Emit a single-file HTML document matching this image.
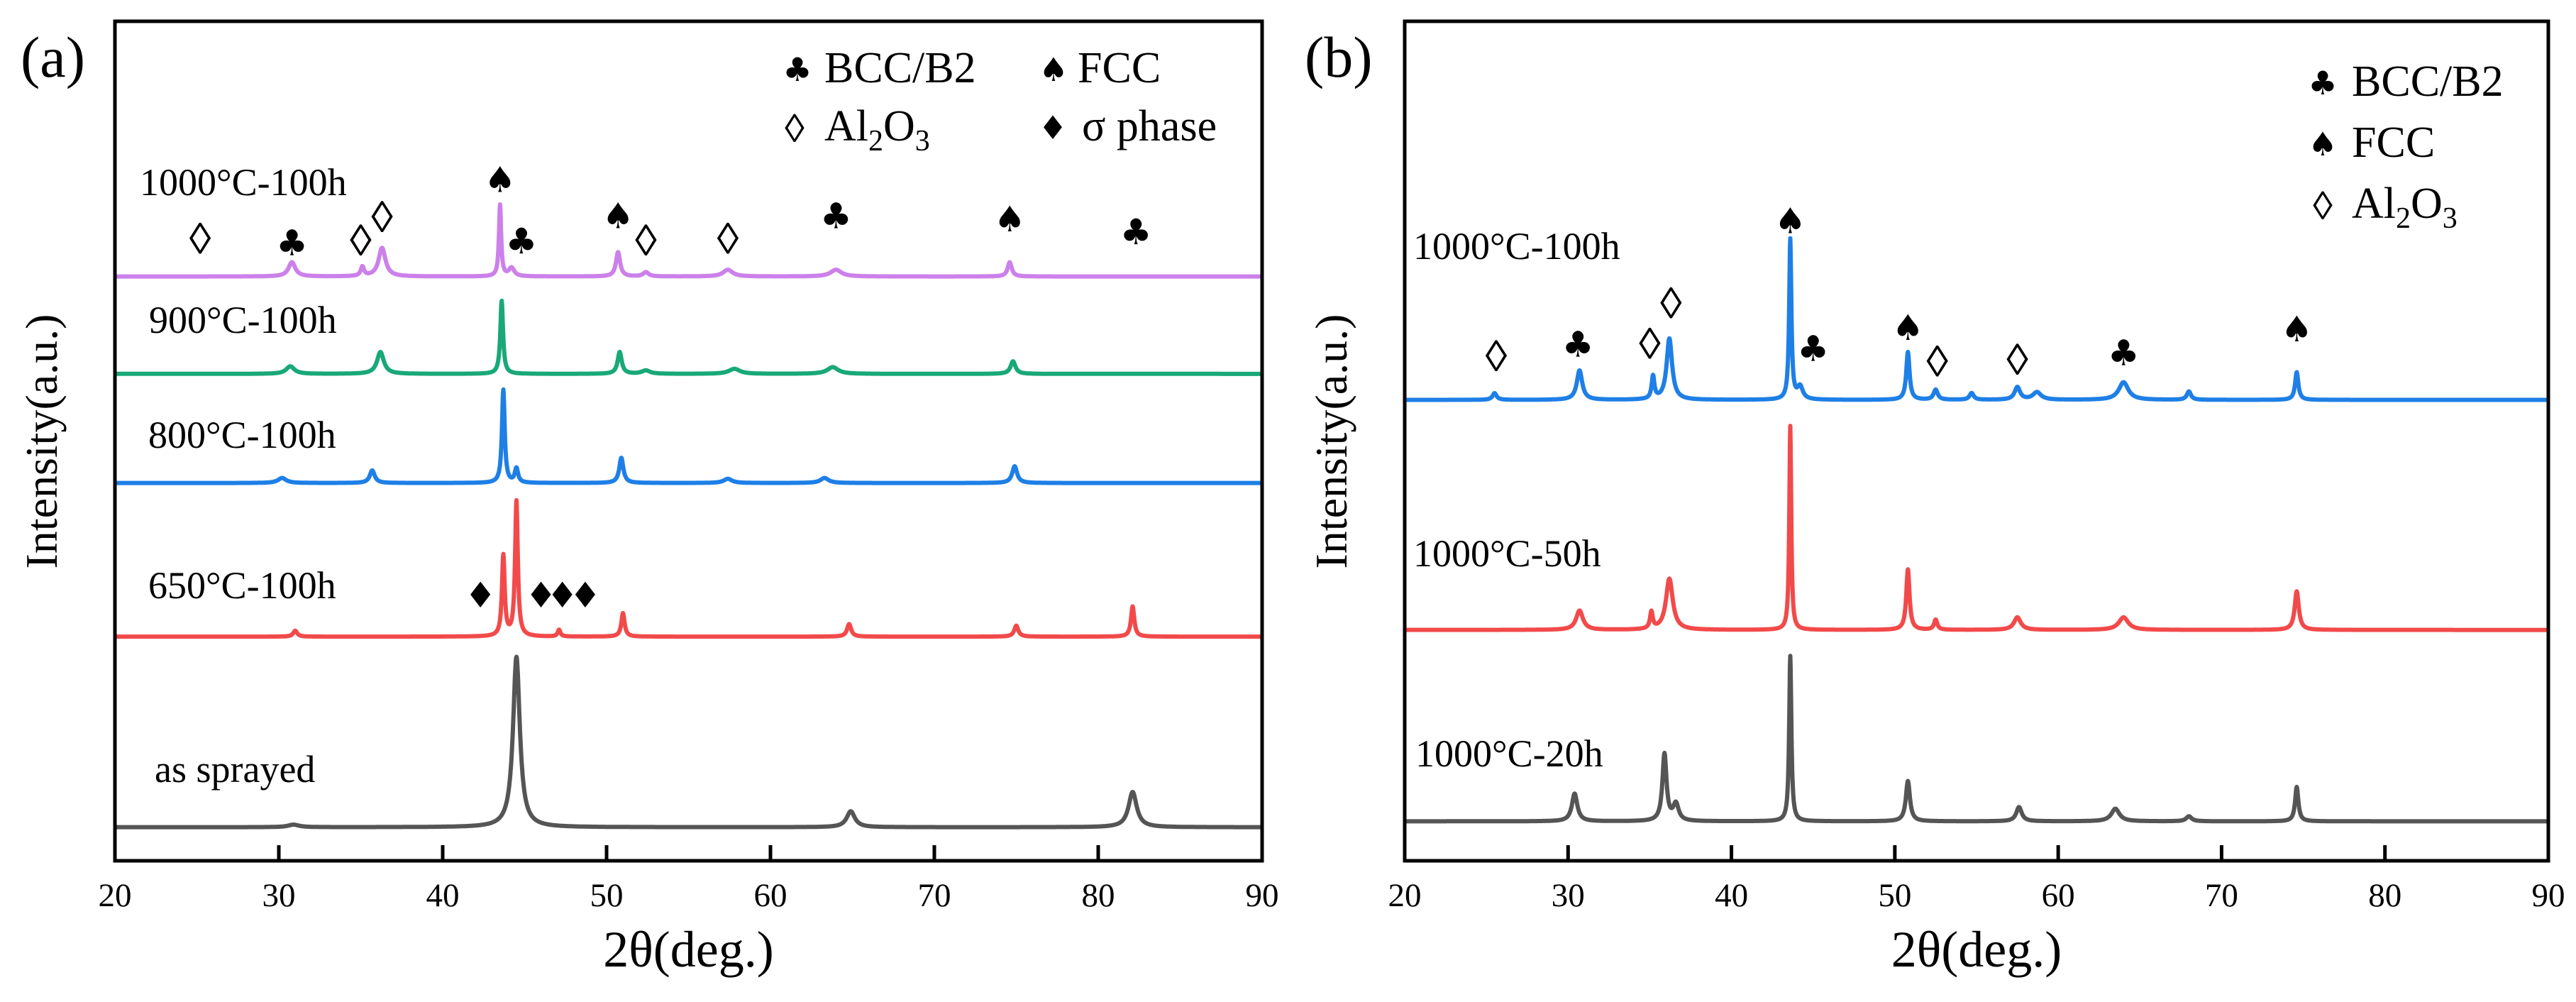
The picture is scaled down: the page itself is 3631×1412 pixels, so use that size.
<!DOCTYPE html>
<html><head><meta charset="utf-8"><style>
html,body{margin:0;padding:0;background:#fff;}
svg{display:block;font-family:"Liberation Serif","DejaVu Serif",serif;}
svg text{font-family:"Liberation Serif","DejaVu Serif",serif;}
svg text.sym{font-family:"DejaVu Sans",sans-serif;}
</style></head><body>
<svg id="fig" width="3631" height="1412" viewBox="0 0 3631 1412" xmlns="http://www.w3.org/2000/svg"></svg>
<script>
// ---- data: x grid / ticks
const xTicks = [20,30,40,50,60,70,80,90];
// Panel (a) series: offsets (a.u.), peak positions (deg), heights (a.u.), widths (deg)
const aNames = ["as sprayed","650°C-100h","800°C-100h","900°C-100h","1000°C-100h"];
const aColors = ["#555555","#f24a4a","#1e7fe6","#19a878","#cc80ea"];
const aOffsets = [4.0, 26.7, 45.0, 58.0, 69.6];
const aPeakPos = [
  [44.5, 64.9, 82.1, 30.9],
  [43.7, 44.5, 51.0, 64.8, 75.0, 82.1, 31.0, 47.1],
  [43.7, 44.5, 50.9, 35.7, 74.9, 30.2, 57.4, 63.3],
  [43.6, 36.2, 50.8, 30.7, 74.8, 57.8, 63.8, 52.4],
  [43.5, 36.3, 35.1, 30.8, 50.7, 74.6, 64.0, 57.4, 52.4, 44.2]
];
const aPeakH = [
  [20.3, 1.9, 4.2, 0.3],
  [9.6, 16.1, 2.8, 1.5, 1.3, 3.6, 0.7, 0.8],
  [11.1, 1.7, 3.0, 1.5, 2.0, 0.6, 0.5, 0.6],
  [8.7, 2.6, 2.6, 0.9, 1.5, 0.6, 0.8, 0.4],
  [8.5, 3.4, 1.1, 1.7, 2.9, 1.7, 0.8, 0.8, 0.5, 1.0]
];
const aPeakW = [
  [0.25, 0.3, 0.3, 0.4],
  [0.1, 0.1, 0.12, 0.15, 0.15, 0.12, 0.15, 0.1],
  [0.1, 0.12, 0.15, 0.18, 0.18, 0.3, 0.3, 0.3],
  [0.1, 0.25, 0.15, 0.3, 0.18, 0.4, 0.4, 0.3],
  [0.08, 0.25, 0.12, 0.25, 0.15, 0.15, 0.4, 0.35, 0.2, 0.2]
];
// Panel (b)
const bNames = ["1000°C-20h","1000°C-50h","1000°C-100h"];
const bColors = ["#555555","#f24a4a","#1e7fe6"];
const bOffsets = [4.7, 27.5, 54.9];
const bPeakPos = [
  [43.6, 35.9, 30.4, 50.8, 74.6, 57.6, 63.5, 36.6, 68.0],
  [43.6, 36.2, 50.8, 74.6, 30.7, 35.1, 57.5, 64.0, 52.5],
  [43.6, 36.2, 35.2, 30.7, 50.8, 74.6, 64.0, 57.5, 52.5, 25.5, 44.2, 54.7, 68.0, 58.7]
];
const bPeakH = [
  [19.7, 8.0, 3.3, 4.8, 4.1, 1.7, 1.5, 2.0, 0.6],
  [24.3, 6.1, 7.2, 4.6, 2.3, 2.0, 1.5, 1.5, 1.2],
  [19.1, 7.3, 2.7, 3.5, 5.7, 3.3, 2.1, 1.5, 1.2, 0.8, 1.5, 0.8, 1.0, 0.9]
];
const bPeakW = [
  [0.08, 0.15, 0.2, 0.15, 0.12, 0.2, 0.3, 0.2, 0.2],
  [0.07, 0.25, 0.12, 0.15, 0.25, 0.1, 0.25, 0.35, 0.12],
  [0.08, 0.2, 0.1, 0.2, 0.12, 0.12, 0.35, 0.2, 0.15, 0.15, 0.2, 0.15, 0.15, 0.3]
];
// phase markers: symbol, 2theta, height (a.u.)
const aMarkSym = ["◊","♣","◊","◊","♠","♣","♠","◊","◊","♣","♠","♣","♦","♦","♦","♦"];
const aMarkX   = [25.2,30.8,35.0,36.3,43.5,44.8,50.7,52.4,57.4,64.0,74.6,82.3,42.3,46.0,47.3,48.7];
const aMarkY   = [74.0,73.6,73.8,76.6,81.1,73.8,76.8,73.8,74.0,76.8,76.4,74.9,31.6,31.6,31.6,31.6];
const bMarkSym = ["◊","♣","◊","◊","♠","♣","♠","◊","◊","♣","♠"];
const bMarkX   = [25.6,30.6,35.0,36.3,43.6,45.0,50.8,52.6,57.5,64.0,74.6];
const bMarkY   = [60.0,61.5,61.5,66.3,76.2,61.0,63.5,59.4,59.6,60.5,63.3];

const NS = "http://www.w3.org/2000/svg";
const svg = document.getElementById("fig");
function el(tag, attrs, parent){
  const e = document.createElementNS(NS, tag);
  for (const k in attrs) e.setAttribute(k, attrs[k]);
  (parent||svg).appendChild(e);
  return e;
}
const TOP = 30, BOT = 1213, YMAX = 100;
function yScale(v){ return BOT - v/YMAX*(BOT-TOP); }

function panel(id, left, right, names, colors, offsets, pos, hts, wids, mSym, mX, mY){
  const g = el("g", {});
  
  
  const xs = v => left + (v-20)/70*(right-left);
  for (let s=0; s<names.length; s++){
    let d = "";
    for (let x=20; x<=90.0001; x+=0.02){
      let v = offsets[s];
      for (let k=0; k<pos[s].length; k++){
        const t = (x-pos[s][k])/wids[s][k];
        v += hts[s][k]/(1+t*t);
      }
      d += (d?"L":"M") + xs(x).toFixed(1) + " " + yScale(v).toFixed(1);
    }
    const p = el("path", {d:d, fill:"none", stroke:colors[s], "stroke-width":6, "stroke-linejoin":"round"}, g);
    
    
  }
  for (let i=0;i<mSym.length;i++){
    const isLoz = mSym[i] === "◊";
    const t = el("text", {x:xs(mX[i]), y:yScale(mY[i])+(isLoz?20:17), "text-anchor":"middle", "font-size":isLoz?62:50, fill:"#000"}, g);
    if (!isLoz) t.setAttribute("class","sym");
    t.textContent = mSym[i];
    
    
  }
  const f = el("rect", {x:left, y:TOP, width:right-left, height:BOT-TOP, fill:"none", stroke:"#000", "stroke-width":5}, g);
  
  
  for (const tv of xTicks){
    const x = xs(tv);
    const tk = el("line", {x1:x, x2:x, y1:BOT, y2:BOT-22, stroke:"#000", "stroke-width":5}, g);
    
    
    const tl = el("text", {x:x, y:1277, "text-anchor":"middle", "font-size":47, fill:"#000"}, g);
    tl.textContent = tv;
    
    
  }
  const xl = el("text", {x:(left+right)/2, y:1362, "text-anchor":"middle", "font-size":72, fill:"#000"}, g);
  xl.textContent = "2θ(deg.)";
  
  
  const yl = el("text", {x:0, y:0, transform:"translate("+(left-82)+",622) rotate(-90)", "text-anchor":"middle", "font-size":64, fill:"#000"}, g);
  yl.textContent = "Intensity(a.u.)";
  
  
  return g;
}
panel("a", 162, 1779, aNames, aColors, aOffsets, aPeakPos, aPeakH, aPeakW, aMarkSym, aMarkX, aMarkY);
panel("b", 1980, 3592, bNames, bColors, bOffsets, bPeakPos, bPeakH, bPeakW, bMarkSym, bMarkX, bMarkY);

(function(){
  function txt(x,y,size,html,name,anchor,sym){
    const t=document.createElementNS(NS,"text");
    t.setAttribute("x",x);t.setAttribute("y",y);t.setAttribute("font-size",size);
    if(anchor)t.setAttribute("text-anchor",anchor);
    if(sym)t.setAttribute("class","sym");
    t.innerHTML=html;
    
    
    svg.appendChild(t);
  }
  txt(29,108,82,"(a)","panel-a-label");
  txt(1839,108,82,"(b)","panel-b-label");
  txt(197,275,54,"1000°C-100h","label-1000c-100h");
  txt(210,469,54,"900°C-100h","label-900c-100h");
  txt(209,631,54,"800°C-100h","label-800c-100h");
  txt(209,843,54,"650°C-100h","label-650c-100h");
  txt(218,1102,54,"as sprayed","label-as-sprayed");
  txt(1992,365,54,"1000°C-100h","label-b-1000c-100h");
  txt(1992,798,54,"1000°C-50h","label-b-1000c-50h");
  txt(1995,1080,54,"1000°C-20h","label-b-1000c-20h");
  const sub = 'Al<tspan font-size="42" dy="14">2</tspan><tspan dy="-14">O</tspan><tspan font-size="42" dy="14">3</tspan>';
  txt(1124,114,46,"♣","legend-bcc-symbol","middle",true);
  txt(1162,116,62,"BCC/B2","legend-bcc");
  txt(1485,114,46,"♠","legend-fcc-symbol","middle",true);
  txt(1519,116,62,"FCC","legend-fcc");
  txt(1120,200,56,"◊","legend-al2o3-symbol","middle");
  txt(1162,198,62,sub,"legend-al2o3");
  txt(1484,196,46,"♦","legend-sigma-symbol","middle",true);
  txt(1525,198,62,"σ phase","legend-sigma");
  txt(3274,133,46,"♣","legend-b-bcc-symbol","middle",true);
  txt(3315,135,62,"BCC/B2","legend-b-bcc");
  txt(3274,219,46,"♠","legend-b-fcc-symbol","middle",true);
  txt(3315,221,62,"FCC","legend-b-fcc");
  txt(3274,309,56,"◊","legend-b-al2o3-symbol","middle");
  txt(3315,307,62,sub,"legend-b-al2o3");
})();
</script>
</body></html>
